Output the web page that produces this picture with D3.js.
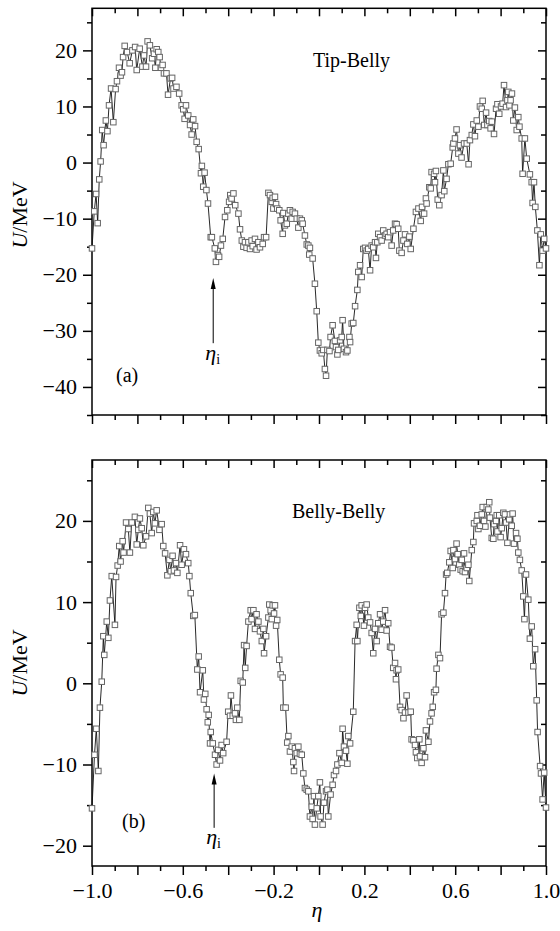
<!DOCTYPE html>
<html>
<head>
<meta charset="utf-8">
<script src="https://cdn.jsdelivr.net/npm/d3@7"></script>
<style>
  body { margin: 0; background: #fff; }
  text { font-family: "Liberation Serif", "Times New Roman", serif; fill: #000; }
</style>
</head>
<body>
<div id="chart"></div>
<script>
// (a) Tip-Belly : [eta, U/MeV]
const tipBelly = [
  [-1.000,-15.3],[-0.990,-8.7],[-0.982,-5.6],[-0.975,-10.8],[-0.968,-3.0],[-0.962,0.2],[-0.955,5.8],
  [-0.949,3.1],[-0.939,7.5],[-0.932,5.6],[-0.925,10.2],[-0.916,13.2],[-0.906,7.2],[-0.896,13.1],
  [-0.890,14.5],[-0.881,16.9],[-0.874,15.5],[-0.868,16.1],[-0.863,18.8],[-0.856,20.8],[-0.845,19.7],
  [-0.834,17.7],[-0.822,20.0],[-0.810,20.6],[-0.803,16.5],[-0.790,20.3],[-0.778,17.1],[-0.771,19.1],
  [-0.762,17.1],[-0.755,21.6],[-0.745,20.9],[-0.735,18.6],[-0.727,19.4],[-0.721,16.9],[-0.715,20.2],
  [-0.708,19.7],[-0.702,18.8],[-0.696,16.9],[-0.689,17.4],[-0.683,15.9],[-0.672,15.9],[-0.665,12.1],
  [-0.654,15.0],[-0.647,15.1],[-0.641,13.2],[-0.628,13.5],[-0.616,12.3],[-0.605,10.2],[-0.598,9.5],
  [-0.592,7.8],[-0.586,10.2],[-0.576,8.4],[-0.568,6.7],[-0.561,5.0],[-0.554,7.7],[-0.546,6.5],
  [-0.539,3.7],[-0.530,2.4],[-0.520,-1.9],[-0.516,-0.6],[-0.510,-4.3],[-0.504,-1.8],[-0.496,-4.9],
  [-0.489,-7.3],[-0.477,-13.3],[-0.472,-13.3],[-0.459,-15.3],[-0.454,-17.7],[-0.445,-16.5],
  [-0.440,-16.8],[-0.432,-14.8],[-0.424,-13.6],[-0.414,-9.7],[-0.404,-8.5],[-0.396,-7.0],
  [-0.391,-5.8],[-0.385,-6.4],[-0.377,-5.5],[-0.369,-7.6],[-0.355,-9.1],[-0.348,-11.9],
  [-0.340,-13.9],[-0.333,-15.0],[-0.326,-14.2],[-0.319,-15.2],[-0.311,-14.2],[-0.304,-15.4],
  [-0.297,-13.9],[-0.292,-14.9],[-0.282,-13.6],[-0.275,-15.5],[-0.267,-14.2],[-0.260,-15.1],
  [-0.248,-14.5],[-0.242,-13.3],[-0.233,-13.3],[-0.223,-5.4],[-0.216,-5.8],[-0.208,-7.0],
  [-0.204,-6.3],[-0.201,-8.2],[-0.194,-6.1],[-0.189,-7.4],[-0.184,-8.2],[-0.175,-8.5],
  [-0.169,-10.3],[-0.160,-12.7],[-0.157,-9.0],[-0.150,-11.2],[-0.142,-10.9],[-0.135,-9.1],
  [-0.128,-8.5],[-0.120,-10.0],[-0.116,-8.8],[-0.106,-9.1],[-0.098,-10.0],[-0.091,-11.6],
  [-0.084,-10.0],[-0.076,-10.3],[-0.072,-10.9],[-0.062,-13.0],[-0.054,-14.6],[-0.047,-14.8],
  [-0.043,-16.4],[-0.040,-15.2],[-0.028,-17.1],[-0.018,-21.6],[-0.010,-26.5],[-0.003,-32.1],
  [0.004,-33.5],[0.012,-34.0],[0.019,-33.4],[0.026,-36.8],[0.031,-38.0],[0.037,-33.4],
  [0.046,-33.6],[0.051,-31.1],[0.060,-29.0],[0.070,-31.8],[0.075,-32.9],[0.081,-34.2],
  [0.085,-33.4],[0.093,-31.7],[0.100,-31.1],[0.104,-28.1],[0.110,-33.2],[0.119,-33.8],
  [0.125,-33.5],[0.134,-31.1],[0.137,-32.0],[0.144,-28.7],[0.151,-28.6],[0.159,-25.6],
  [0.169,-22.7],[0.173,-19.5],[0.181,-18.3],[0.188,-20.4],[0.195,-15.4],[0.203,-15.2],
  [0.210,-15.7],[0.217,-15.4],[0.225,-19.2],[0.232,-14.8],[0.239,-15.1],[0.247,-14.2],
  [0.251,-17.0],[0.257,-14.2],[0.261,-12.7],[0.269,-13.3],[0.276,-13.9],[0.283,-12.1],
  [0.291,-13.0],[0.298,-12.7],[0.305,-13.3],[0.313,-12.4],[0.320,-14.8],[0.327,-12.1],
  [0.335,-10.9],[0.342,-11.0],[0.349,-11.8],[0.354,-15.7],[0.364,-16.1],[0.372,-13.9],
  [0.379,-12.8],[0.389,-14.5],[0.398,-13.2],[0.404,-15.4],[0.416,-11.8],[0.427,-8.8],
  [0.438,-8.2],[0.448,-10.4],[0.454,-7.9],[0.463,-9.1],[0.471,-6.4],[0.474,-7.3],[0.486,-4.4],
  [0.492,-4.6],[0.496,-1.7],[0.507,-2.0],[0.511,-3.5],[0.515,-1.5],[0.523,-6.6],[0.530,-7.6],
  [0.540,-5.8],[0.548,-1.4],[0.552,-5.1],[0.562,-2.9],[0.570,-0.3],[0.580,-0.2],[0.589,2.7],
  [0.592,3.4],[0.599,4.3],[0.606,5.9],[0.614,1.6],[0.621,3.1],[0.628,0.9],[0.639,3.4],
  [0.651,3.4],[0.659,-0.3],[0.665,4.0],[0.673,4.9],[0.680,6.8],[0.687,4.7],[0.695,7.5],
  [0.702,6.4],[0.709,10.0],[0.717,9.6],[0.721,11.0],[0.728,6.7],[0.736,8.9],[0.742,6.7],
  [0.750,7.4],[0.756,6.1],[0.761,7.3],[0.771,5.1],[0.780,9.6],[0.786,10.4],[0.794,8.7],
  [0.802,10.0],[0.809,10.5],[0.815,13.8],[0.824,9.9],[0.830,11.1],[0.834,12.6],[0.839,10.2],
  [0.844,11.1],[0.850,12.3],[0.856,7.5],[0.863,9.8],[0.871,5.8],[0.878,8.1],[0.883,6.4],
  [0.893,4.3],[0.897,-2.0],[0.907,4.3],[0.915,0.7],[0.929,-2.1],[0.937,-3.5],[0.941,-7.2],
  [0.947,-3.5],[0.953,-7.9],[0.962,-12.1],[0.971,-18.3],[0.977,-12.8],[0.985,-15.7],
  [0.992,-13.6],[1.000,-15.3]
];

// (b) Belly-Belly : [eta, U/MeV]
const bellyBelly = [
  [-1.000,-15.4],[-0.989,-8.8],[-0.981,-5.6],[-0.972,-10.8],[-0.965,-3.0],[-0.957,0.2],[-0.950,5.8],
  [-0.946,3.5],[-0.935,7.6],[-0.928,5.6],[-0.921,10.2],[-0.913,13.2],[-0.899,7.2],[-0.894,13.1],
  [-0.887,14.5],[-0.880,16.9],[-0.874,15.0],[-0.865,17.5],[-0.861,16.1],[-0.850,19.8],[-0.840,19.0],
  [-0.833,16.1],[-0.825,19.8],[-0.811,20.5],[-0.803,17.1],[-0.796,18.9],[-0.789,20.3],[-0.781,19.1],
  [-0.774,17.0],[-0.762,18.1],[-0.752,21.6],[-0.745,20.9],[-0.737,18.5],[-0.730,21.1],[-0.723,19.7],
  [-0.715,21.3],[-0.703,18.9],[-0.693,19.6],[-0.686,16.9],[-0.678,16.0],[-0.668,13.3],[-0.659,15.2],
  [-0.653,13.8],[-0.645,15.7],[-0.639,13.9],[-0.630,14.8],[-0.624,13.6],[-0.612,17.0],[-0.605,14.6],
  [-0.595,16.5],[-0.586,15.9],[-0.576,14.8],[-0.571,13.2],[-0.565,11.1],[-0.554,8.3],[-0.547,8.4],
  [-0.536,1.7],[-0.530,3.3],[-0.524,-1.1],[-0.512,1.6],[-0.507,-2.0],[-0.501,-1.3],[-0.495,-3.2],
  [-0.490,-4.8],[-0.486,-3.9],[-0.480,-7.4],[-0.477,-6.0],[-0.468,-7.4],[-0.458,-8.8],[-0.451,-10.0],
  [-0.444,-8.2],[-0.436,-9.5],[-0.429,-7.6],[-0.422,-8.6],[-0.407,-7.2],[-0.400,-3.5],[-0.392,-4.0],
  [-0.388,-1.5],[-0.380,-4.0],[-0.370,-3.7],[-0.366,-4.5],[-0.360,-3.0],[-0.351,-4.5],[-0.345,0.3],
  [-0.336,0.1],[-0.330,4.7],[-0.325,1.9],[-0.319,4.6],[-0.311,7.6],[-0.301,9.0],[-0.297,7.9],
  [-0.289,9.0],[-0.282,6.7],[-0.275,8.5],[-0.267,7.6],[-0.260,6.4],[-0.252,5.2],[-0.245,6.7],
  [-0.242,3.7],[-0.233,5.8],[-0.223,8.1],[-0.219,9.7],[-0.213,9.0],[-0.208,7.9],[-0.204,9.6],
  [-0.198,8.6],[-0.194,9.6],[-0.189,7.1],[-0.184,7.8],[-0.175,2.9],[-0.169,1.1],[-0.160,0.7],
  [-0.157,-3.0],[-0.147,-3.0],[-0.140,-7.3],[-0.135,-6.5],[-0.128,-8.4],[-0.120,-7.8],[-0.113,-9.7],
  [-0.110,-10.8],[-0.106,-8.0],[-0.098,-8.6],[-0.091,-7.8],[-0.084,-8.7],[-0.076,-8.8],[-0.069,-11.1],
  [-0.062,-12.9],[-0.054,-13.1],[-0.047,-13.3],[-0.040,-16.4],[-0.032,-15.2],[-0.028,-16.7],
  [-0.022,-13.9],[-0.018,-17.4],[-0.010,-15.4],[-0.003,-13.9],[0.004,-12.2],[0.007,-16.4],
  [0.016,-17.4],[0.022,-14.7],[0.031,-13.3],[0.037,-13.1],[0.041,-16.4],[0.051,-13.7],[0.060,-12.5],
  [0.066,-11.3],[0.075,-10.8],[0.081,-10.0],[0.090,-8.6],[0.100,-9.8],[0.104,-5.6],[0.110,-7.8],
  [0.119,-8.3],[0.125,-9.9],[0.129,-6.5],[0.137,-7.4],[0.151,-3.5],[0.159,5.2],[0.166,7.2],
  [0.169,5.2],[0.178,9.3],[0.184,8.3],[0.188,9.6],[0.198,7.1],[0.203,9.3],[0.210,9.7],[0.217,8.1],
  [0.225,7.5],[0.232,6.2],[0.239,3.7],[0.247,6.7],[0.254,5.2],[0.261,7.4],[0.269,8.5],[0.276,6.6],
  [0.283,7.6],[0.291,9.0],[0.298,6.5],[0.305,7.4],[0.313,4.5],[0.320,4.4],[0.327,1.9],[0.335,2.5],
  [0.339,0.5],[0.342,1.6],[0.349,1.7],[0.357,-2.9],[0.364,-3.3],[0.372,-4.3],[0.379,-3.6],
  [0.386,-1.5],[0.394,-3.6],[0.404,-3.5],[0.408,-6.9],[0.416,-7.0],[0.423,-7.6],[0.427,-8.5],
  [0.433,-9.2],[0.442,-6.9],[0.445,-9.0],[0.452,-9.8],[0.460,-8.0],[0.467,-9.1],[0.471,-5.8],
  [0.482,-7.2],[0.489,-4.7],[0.496,-3.7],[0.501,-2.9],[0.507,-1.1],[0.515,-0.8],[0.518,1.8],
  [0.526,3.5],[0.533,3.1],[0.540,8.5],[0.548,8.7],[0.555,11.1],[0.560,13.4],[0.565,13.6],
  [0.574,14.9],[0.580,16.3],[0.589,14.2],[0.592,16.4],[0.599,15.3],[0.606,17.2],[0.611,15.9],
  [0.618,14.6],[0.624,14.0],[0.629,15.2],[0.633,13.8],[0.639,16.0],[0.643,13.7],[0.651,14.2],
  [0.658,14.6],[0.662,12.6],[0.673,16.4],[0.680,17.4],[0.683,19.7],[0.695,20.0],[0.698,20.7],
  [0.702,19.0],[0.709,19.4],[0.717,20.8],[0.721,21.7],[0.727,20.0],[0.733,19.3],[0.739,21.7],
  [0.746,21.4],[0.750,22.3],[0.753,20.4],[0.761,17.9],[0.768,17.8],[0.771,19.6],[0.780,20.0],
  [0.783,20.7],[0.786,18.7],[0.794,20.7],[0.800,18.0],[0.805,19.1],[0.812,21.0],[0.819,20.8],
  [0.824,19.8],[0.830,17.3],[0.838,20.2],[0.841,20.8],[0.849,19.4],[0.853,20.9],[0.859,17.2],
  [0.868,18.5],[0.874,17.8],[0.878,16.1],[0.885,15.2],[0.893,13.9],[0.900,10.7],[0.905,7.9],
  [0.912,13.4],[0.922,10.3],[0.929,5.5],[0.937,7.0],[0.944,2.1],[0.952,4.2],[0.959,-2.1],
  [0.963,-6.0],[0.974,-10.2],[0.978,-11.1],[0.985,-14.3],[0.992,-11.0],[1.000,-15.3]
];

// ticks
const xMajor = [-1.0, -0.8, -0.6, -0.4, -0.2, 0, 0.2, 0.4, 0.6, 0.8, 1.0];
const xMinor = [-0.9, -0.7, -0.5, -0.3, -0.1, 0.1, 0.3, 0.5, 0.7, 0.9];
const xLabeled = [-1.0, -0.6, -0.2, 0.2, 0.6, 1.0];
const yMajorA = [-40, -30, -20, -10, 0, 10, 20];
const yMinorA = [-45, -35, -25, -15, -5, 5, 15, 25];
const yMajorB = [-20, -10, 0, 10, 20];
const yMinorB = [-15, -5, 5, 15, 25];

// annotations: eta of the arrow, arrow tip/tail in U
const arrowA = { eta: -0.466, tip: -20.6, tail: -32.2 };
const arrowB = { eta: -0.462, tip: -11.1, tail: -17.8 };

const W = 560, H = 931;
const left = 92, right = 546;

const svg = d3.select("#chart").append("svg")
    .attr("width", W)
    .attr("height", H);

const x = d3.scaleLinear().domain([-1, 1]).range([left, right]);

const fmtX = d3.format(".1f");
const fmtY = d3.format("d");

function styleAxis(g) {
    g.select(".domain").remove();
    g.selectAll(".tick line").attr("stroke", "#000").attr("stroke-width", 1.5);
    g.selectAll(".tick text")
        .style("font-family", '"Liberation Serif", "Times New Roman", serif')
        .style("font-size", "22px")
        .attr("fill", "#000");
}

function drawPanel(data, y, yMajor, yMinor, top, bottom, showXLabels) {
    // y axis, left (outward) and right (inward)
    svg.append("g").attr("transform", `translate(${left},0)`)
        .call(d3.axisLeft(y).tickValues(yMajor).tickSize(9).tickPadding(6).tickFormat(fmtY))
        .call(styleAxis);
    svg.append("g").attr("transform", `translate(${left},0)`)
        .call(d3.axisLeft(y).tickValues(yMinor).tickSize(5).tickFormat(""))
        .call(styleAxis);
    svg.append("g").attr("transform", `translate(${right},0)`)
        .call(d3.axisLeft(y).tickValues(yMajor).tickSize(8).tickFormat(""))
        .call(styleAxis);
    svg.append("g").attr("transform", `translate(${right},0)`)
        .call(d3.axisLeft(y).tickValues(yMinor).tickSize(5).tickFormat(""))
        .call(styleAxis);

    // x axis, top (inward) and bottom (outward)
    svg.append("g").attr("transform", `translate(0,${top})`)
        .call(d3.axisBottom(x).tickValues(xMajor).tickSize(8).tickFormat(""))
        .call(styleAxis);
    svg.append("g").attr("transform", `translate(0,${top})`)
        .call(d3.axisBottom(x).tickValues(xMinor).tickSize(5).tickFormat(""))
        .call(styleAxis);
    svg.append("g").attr("transform", `translate(0,${bottom})`)
        .call(d3.axisBottom(x).tickValues(xMajor).tickSize(9).tickPadding(7)
            .tickFormat(d => showXLabels && xLabeled.some(v => Math.abs(v - d) < 1e-9) ? fmtX(d) : ""))
        .call(styleAxis);
    svg.append("g").attr("transform", `translate(0,${bottom})`)
        .call(d3.axisBottom(x).tickValues(xMinor).tickSize(5).tickFormat(""))
        .call(styleAxis);

    // frame
    svg.append("rect")
        .attr("x", left).attr("y", top)
        .attr("width", right - left).attr("height", bottom - top)
        .attr("fill", "none").attr("stroke", "#000").attr("stroke-width", 1.5);

    // line + open squares
    const line = d3.line().x(d => x(d[0])).y(d => y(d[1]));
    svg.append("path")
        .datum(data)
        .attr("d", line)
        .attr("fill", "none")
        .attr("stroke", "#111")
        .attr("stroke-width", 0.9);

    const s = 5.5;
    svg.append("g").selectAll("rect")
        .data(data)
        .join("rect")
        .attr("x", d => x(d[0]) - s / 2)
        .attr("y", d => y(d[1]) - s / 2)
        .attr("width", s).attr("height", s)
        .attr("fill", "#fff")
        .attr("stroke", "#666")
        .attr("stroke-width", 1);
}

function yLabel(cy) {
    const t = svg.append("text")
        .attr("transform", `translate(27,${cy}) rotate(-90)`)
        .attr("text-anchor", "middle")
        .style("font-size", "22px");
    t.append("tspan").style("font-style", "italic").text("U");
    t.append("tspan").text("/MeV");
}

function arrow(a, y, labelY) {
    const ax = x(a.eta);
    const yt = y(a.tip), yb = y(a.tail);
    svg.append("line")
        .attr("x1", ax).attr("x2", ax)
        .attr("y1", yt + 8).attr("y2", yb)
        .attr("stroke", "#000").attr("stroke-width", 1);
    svg.append("path")
        .attr("d", `M${ax},${yt} L${ax - 2.5},${yt + 11} L${ax + 2.5},${yt + 11} Z`)
        .attr("fill", "#000");
    const t = svg.append("text")
        .attr("x", ax - 8).attr("y", labelY)
        .style("font-size", "22px");
    t.append("tspan").style("font-style", "italic").text("η");
    t.append("tspan").attr("dy", 4).style("font-size", "14px").text("i");
}

// panel (a)
const yA = d3.scaleLinear().domain([-45, 27.5]).range([415, 8.3]);
drawPanel(tipBelly, yA, yMajorA, yMinorA, 8.3, 415, false);
yLabel(215);
svg.append("text").attr("x", 313).attr("y", 67).style("font-size", "20px").text("Tip-Belly");
svg.append("text").attr("x", 116).attr("y", 382).style("font-size", "20px").text("(a)");
arrow(arrowA, yA, 360);

// panel (b)
const yB = d3.scaleLinear().domain([-22.5, 27.5]).range([866, 460]);
drawPanel(bellyBelly, yB, yMajorB, yMinorB, 460, 866, true);
yLabel(663);
svg.append("text").attr("x", 292).attr("y", 518).style("font-size", "20px").text("Belly-Belly");
svg.append("text").attr("x", 122).attr("y", 828).style("font-size", "20px").text("(b)");
arrow(arrowB, yB, 844);

svg.append("text")
    .attr("x", x(0) - 2).attr("y", 917)
    .attr("text-anchor", "middle")
    .style("font-size", "22px")
    .style("font-style", "italic")
    .text("η");
</script>
</body>
</html>
